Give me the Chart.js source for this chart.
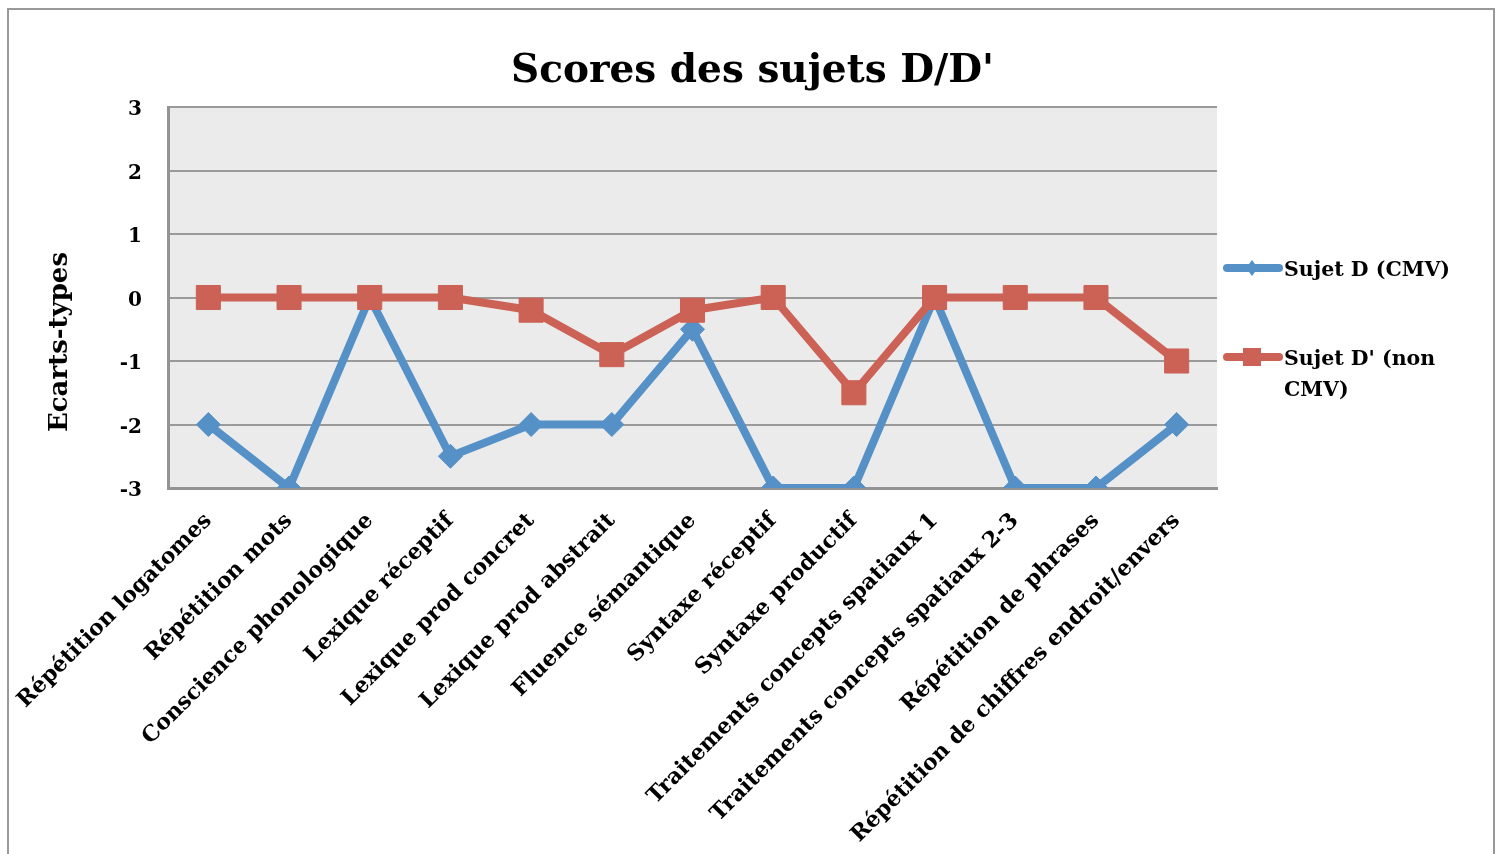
<!DOCTYPE html>
<html>
<head>
<meta charset="utf-8">
<script src="https://cdn.jsdelivr.net/npm/chart.js@4.4.1/dist/chart.umd.min.js"></script>
<style>
  html, body { margin: 0; padding: 0; background: #ffffff; overflow: hidden; }
  #wrap { width: 1497px; height: 854px; position: relative; }
</style>
</head>
<body>
<div id="wrap"><canvas id="c" width="1497" height="854"></canvas></div>
<script>
const categories = [
  "Répétition logatomes",
  "Répétition mots",
  "Conscience phonologique",
  "Lexique réceptif",
  "Lexique prod concret",
  "Lexique prod abstrait",
  "Fluence sémantique",
  "Syntaxe réceptif",
  "Syntaxe productif",
  "Traitements concepts spatiaux 1",
  "Traitements concepts spatiaux 2-3",
  "Répétition de phrases",
  "Répétition de chiffres endroit/envers"
];
const sujetD = [-2, -3, 0, -2.5, -2, -2, -0.5, -3, -3, 0, -3, -3, -2];
const sujetDprime = [0, 0, 0, 0, -0.2, -0.9, -0.2, 0, -1.5, 0, 0, 0, -1];
const seriesNames = ["Sujet D (CMV)", ["Sujet D' (non", "CMV)"]];
const yTicks = [-3, -2, -1, 0, 1, 2, 3];
const yTitle = 'Ecarts-types';

const BLUE = '#5591c7';
const RED = '#cc6155';
const SERIF = '"DejaVu Serif", serif';

const framePlugin = {
  id: 'frame',
  beforeDraw(chart) {
    const ctx = chart.ctx;
    const a = chart.chartArea;
    ctx.save();
    ctx.fillStyle = '#ffffff';
    ctx.fillRect(0, 0, chart.width, chart.height);
    ctx.strokeStyle = '#999999';
    ctx.lineWidth = 2;
    ctx.strokeRect(8, 9, 1486, 900);
    ctx.fillStyle = '#ebebeb';
    ctx.fillRect(a.left, a.top, a.right - a.left, a.bottom - a.top);
    ctx.restore();
  }
};

const axisTitlePlugin = {
  id: 'axisTitle',
  afterDraw(chart) {
    const ctx = chart.ctx;
    ctx.save();
    ctx.translate(60, 342);
    ctx.rotate(-Math.PI / 2);
    ctx.fillStyle = '#000000';
    ctx.font = 'bold 26px ' + SERIF;
    ctx.textAlign = 'center';
    ctx.textBaseline = 'middle';
    ctx.fillText(yTitle, 0, 0);
    ctx.restore();
  }
};

const legendPlugin = {
  id: 'customLegend',
  afterDraw(chart) {
    const ctx = chart.ctx;
    ctx.save();
    const items = [
      { ds: chart.data.datasets[1], y: 268, text: seriesNames[0], shape: 'diamond' },
      { ds: chart.data.datasets[0], y: 357, text: seriesNames[1], shape: 'square' }
    ];
    items.forEach(it => {
      const col = it.ds.borderColor;
      ctx.strokeStyle = col;
      ctx.lineWidth = 8;
      ctx.lineCap = 'round';
      ctx.beginPath();
      ctx.moveTo(1227, it.y);
      ctx.lineTo(1279, it.y);
      ctx.stroke();
      ctx.fillStyle = col;
      if (it.shape === 'diamond') {
        ctx.beginPath();
        ctx.moveTo(1252, it.y - 8);
        ctx.lineTo(1258, it.y);
        ctx.lineTo(1252, it.y + 8);
        ctx.lineTo(1246, it.y);
        ctx.closePath();
        ctx.fill();
      } else {
        ctx.fillRect(1243, it.y - 9, 18, 18);
      }
      ctx.fillStyle = '#000000';
      ctx.font = 'bold 20.5px ' + SERIF;
      ctx.textAlign = 'left';
      ctx.textBaseline = 'middle';
      const lines = Array.isArray(it.text) ? it.text : [it.text];
      lines.forEach((t, i) => ctx.fillText(t, 1284, it.y + 3 + i * 31));
    });
    ctx.restore();
  }
};

new Chart(document.getElementById('c'), {
  type: 'line',
  data: {
    labels: categories,
    datasets: [
      {
        label: "Sujet D' (non CMV)",
        data: sujetDprime,
        borderColor: RED,
        backgroundColor: RED,
        borderWidth: 8,
        pointStyle: 'rect',
        pointRadius: 17,
        pointHoverRadius: 17,
        pointBorderWidth: 1,
        pointBorderColor: RED,
        pointBackgroundColor: RED,
        tension: 0,
        order: 0
      },
      {
        label: "Sujet D (CMV)",
        data: sujetD,
        borderColor: BLUE,
        backgroundColor: BLUE,
        borderWidth: 8,
        pointStyle: 'rectRot',
        pointRadius: 12,
        pointHoverRadius: 12,
        pointBorderWidth: 1,
        pointBorderColor: BLUE,
        pointBackgroundColor: BLUE,
        tension: 0,
        order: 1
      }
    ]
  },
  options: {
    responsive: false,
    animation: false,
    devicePixelRatio: 1,
    layout: { padding: { left: 8, right: 0, top: 0, bottom: 0 } },
    plugins: {
      legend: { display: false },
      tooltip: { enabled: false },
      title: {
        display: true,
        text: "Scores des sujets D/D'",
        color: '#000000',
        font: { family: SERIF, size: 39, weight: 'bold', lineHeight: 1 },
        padding: { top: 52, bottom: 16 }
      }
    },
    scales: {
      x: {
        offset: true,
        grid: { display: false, drawTicks: false },
        border: { display: true, color: '#939393', width: 3 },
        ticks: {
          autoSkip: false,
          maxRotation: 45,
          minRotation: 45,
          padding: 20,
          color: '#000000',
          font: { family: SERIF, size: 22, weight: 'bold' }
        },
        afterFit(scale) {
          scale.height = 854 - 488;
          scale.paddingLeft = 0;
          scale.paddingRight = 0;
        }
      },
      y: {
        min: -3,
        max: 3,
        afterBuildTicks(scale) { scale.ticks = yTicks.map(v => ({ value: v })); },
        grid: { color: '#9a9a9a', lineWidth: 2, drawTicks: false },
        border: { display: true, color: '#939393', width: 3 },
        ticks: {
          padding: 26,
          labelOffset: 3,
          color: '#000000',
          font: { family: SERIF, size: 20, weight: 'bold' }
        },
        title: { display: false },
        afterFit(scale) { scale.width = 160; }
      },
      yRightSpace: {
        type: 'linear',
        position: 'right',
        display: true,
        grid: { display: false, drawOnChartArea: false, drawTicks: false },
        border: { display: false },
        ticks: { display: false },
        afterFit(scale) { scale.width = 1497 - 1217; }
      }
    }
  },
  plugins: [framePlugin, axisTitlePlugin, legendPlugin]
});
</script>
</body>
</html>
